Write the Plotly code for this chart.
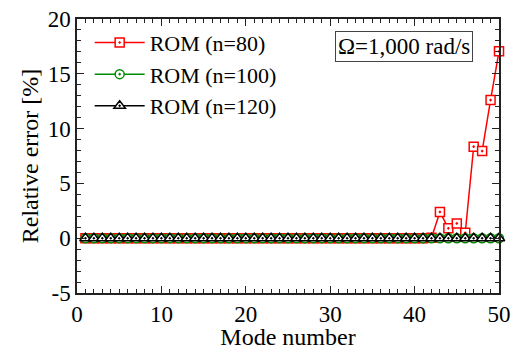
import plotly.graph_objects as go

modes = list(range(1, 51))
err_n80 = [0.0, 0.0, 0.0, 0.0, 0.0, 0.0, 0.0, 0.0, 0.0, 0.0,
           0.0, 0.0, 0.0, 0.0, 0.0, 0.0, 0.0, 0.0, 0.0, 0.0,
           0.0, 0.0, 0.0, 0.0, 0.0, 0.0, 0.0, 0.0, 0.0, 0.0,
           0.0, 0.0, 0.0, 0.0, 0.0, 0.0, 0.0, 0.0, 0.0, 0.0,
           0.0, 0.05, 2.4, 0.9, 1.35, 0.5, 8.35, 7.95, 12.6, 17.05]
err_n100 = [0.0] * 50
err_n120 = [0.0] * 50
series_names = ["ROM (n=80)", "ROM (n=100)", "ROM (n=120)"]
ytick_vals = [-5, 0, 5, 10, 15, 20]
ytick_text = ["-5", "0", "5", "10", "15", "20"]
xtick_vals = [0, 10, 20, 30, 40, 50]
note_text = "Ω=1,000 rad/s"

FONT = "'Liberation Serif', 'DejaVu Serif', serif"
fig = go.Figure()
styles = [
    (err_n80, "#ff0000", "square-dot", 9),
    (err_n100, "#008c00", "circle-dot", 9),
    (err_n120, "#000000", "triangle-up-dot", 10),
]
for (vals, col, sym, sz), name in zip(styles, series_names):
    fig.add_trace(go.Scatter(
        x=modes, y=vals, name=name, mode="lines+markers",
        line=dict(color=col, width=1.5),
        marker=dict(symbol=sym, size=sz, color="white",
                    line=dict(color=col, width=1.5)),
        cliponaxis=False,
    ))

axis_common = dict(
    showgrid=False, zeroline=False, showline=True, mirror="ticks",
    linecolor="#222", linewidth=1.5, ticks="inside", ticklen=7,
    tickwidth=1.2, tickcolor="#222",
    tickfont=dict(family=FONT, size=23, color="black"),
)
fig.update_xaxes(range=[0, 50], tickvals=xtick_vals,
                 minor=dict(dtick=1, ticks="inside", ticklen=4, tickcolor="#222"),
                 title=dict(text="Mode number", font=dict(family=FONT, size=24, color="black"), standoff=4),
                 **axis_common)
fig.update_yaxes(range=[-5, 20], tickvals=ytick_vals, ticktext=ytick_text,
                 minor=dict(dtick=1, ticks="inside", ticklen=4, tickcolor="#222"),
                 title=dict(text="Relative error [%]", font=dict(family=FONT, size=24, color="black"), standoff=2),
                 **axis_common)

fig.add_annotation(x=0.776, y=0.9, xref="paper", yref="paper",
                   xanchor="center", yanchor="middle", text=note_text,
                   showarrow=False, font=dict(family=FONT, size=23, color="black"),
                   bordercolor="#444", borderwidth=1, borderpad=2, bgcolor="white")

fig.update_layout(
    width=515, height=350,
    margin=dict(l=77, r=16, t=19, b=57, autoexpand=False),
    plot_bgcolor="white", paper_bgcolor="white",
    font=dict(family=FONT, size=23, color="black"),
    legend=dict(x=0.03, y=0.99, xanchor="left", yanchor="top",
                bgcolor="rgba(0,0,0,0)", font=dict(family=FONT, size=22),
                itemwidth=50, tracegroupgap=0),
    showlegend=True,
)
fig.write_html("out.html")
